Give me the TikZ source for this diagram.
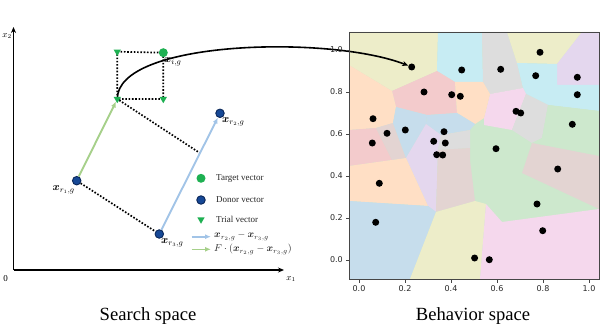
\documentclass[tikz,border=0pt]{standalone}
\usepackage{amsmath,amssymb}
\usepackage{fontspec}
\setmainfont{Liberation Serif}
\newfontfamily\tickfont{DejaVu Sans}
\usetikzlibrary{shapes.geometric,calc,arrows.meta}
\pgfdeclarelayer{back}
\pgfdeclarelayer{bg}
\pgfsetlayers{back,bg,main}
\definecolor{cyel}{RGB}{237,237,201}
\definecolor{ccya}{RGB}{199,236,243}
\definecolor{cgry}{RGB}{221,221,221}
\definecolor{clav}{RGB}{228,215,238}
\definecolor{cpnk}{RGB}{245,216,237}
\definecolor{cros}{RGB}{243,203,204}
\definecolor{cpch}{RGB}{255,223,197}
\definecolor{clbl}{RGB}{198,221,236}
\definecolor{cgrn}{RGB}{205,232,205}
\definecolor{cbrn}{RGB}{227,212,210}
\definecolor{framegray}{RGB}{70,70,70}
\definecolor{tgreen}{RGB}{30,176,82}
\definecolor{donorfill}{RGB}{22,72,150}
\definecolor{donordraw}{RGB}{10,38,88}
\definecolor{arrblue}{RGB}{162,196,231}
\definecolor{arrgreen}{RGB}{166,208,138}
\begin{document}
\begin{tikzpicture}[x=1pt,y=-1pt,
  dot/.style={circle,fill=black,inner sep=0pt,minimum size=7pt},
  donor/.style={circle,fill=donorfill,draw=donordraw,line width=0.9pt,inner sep=0pt,minimum size=8.5pt},
  target/.style={circle,fill=tgreen,inner sep=0pt,minimum size=9pt},
  trial/.style={regular polygon,regular polygon sides=3,shape border rotate=180,fill=tgreen,inner sep=0pt,minimum size=8.5pt},
  axisline/.style={line width=1.3pt,-{Stealth[length=6pt,width=5pt]}},
  dotline/.style={line width=1.7pt,dash pattern=on 1.6pt off 1.7pt},
  bluearrow/.style={arrblue,line width=1.9pt,-{Latex[length=6pt,width=5pt]}},
  greenarrow/.style={arrgreen,line width=1.9pt,-{Latex[length=6pt,width=5pt]}},
  curvearrow/.style={line width=1.6pt,-{Stealth[length=6pt,width=5pt]}},
  ticklabel/.style={font=\tickfont\fontsize{8}{9}\selectfont,inner sep=0pt,text=black!85},
  lgtext/.style={font=\fontsize{9}{10}\selectfont,inner sep=0pt,anchor=west,text=black!85},
  vlabel/.style={font=\fontsize{11}{12}\selectfont,inner sep=0pt},
  caption/.style={font=\fontsize{18.6}{22}\selectfont,inner sep=0pt}
]
\useasboundingbox (0,0) rectangle (602,326);

% ---------------- Behavior space cells ----------------
\begin{pgfonlayer}{back}
\fill[cgrn] (349,32) rectangle (599,279);
\fill[cyel] (349,32) -- (438,32) -- (437,71) -- (392,91) -- (349,65) -- cycle;
\fill[ccya] (438,32) -- (482,32) -- (483,82) -- (455,82) -- (437,71) -- cycle;
\fill[cgry] (482,32) -- (507,32) -- (517,63) -- (523,88) -- (490,94) -- (483,82) -- cycle;
\fill[cyel] (507,32) -- (582,32) -- (557,64) -- (517,63) -- cycle;
\fill[clav] (582,32) -- (599,32) -- (599,85) -- (557,85) -- (557,64) -- cycle;
\fill[ccya] (517,63) -- (557,64) -- (557,85) -- (599,85) -- (599,111) -- (548,105) -- (526,94) -- (523,88) -- cycle;
\fill[cpnk] (490,94) -- (523,88) -- (526,94) -- (512,130) -- (484,125) -- (484,118) -- cycle;
\fill[cgry] (526,94) -- (548,105) -- (542,138) -- (532,143) -- (512,130) -- cycle;
\fill[cgrn] (548,105) -- (599,111) -- (599,156) -- (532,143) -- (542,138) -- cycle;
\fill[cbrn] (532,143) -- (599,156) -- (599,209) -- (522,173) -- cycle;
\fill[cros] (392,91) -- (437,71) -- (455,82) -- (457,113) -- (427,115) -- (396,107) -- cycle;
\fill[cpch] (455,82) -- (483,82) -- (490,94) -- (484,118) -- (475,124) -- (457,113) -- cycle;
\fill[cpch] (349,65) -- (392,91) -- (396,107) -- (393,123) -- (376,128) -- (349,130) -- cycle;
\fill[cros] (349,130) -- (376,128) -- (392,160) -- (349,166) -- cycle;
\fill[cbrn] (376,128) -- (393,123) -- (406,158) -- (392,160) -- cycle;
\fill[clbl] (396,107) -- (427,115) -- (426,124) -- (406,158) -- (393,123) -- cycle;
\fill[clbl] (427,115) -- (457,113) -- (475,124) -- (470,130) -- (441,135) -- (426,124) -- cycle;
\fill[clav] (426,124) -- (441,135) -- (438,150) -- (436,212) -- (428,206) -- (406,158) -- cycle;
\fill[cgry] (441,135) -- (470,130) -- (470,148) -- (438,150) -- cycle;
\fill[cbrn] (438,150) -- (470,148) -- (470,160) -- (475,201) -- (436,212) -- cycle;
\fill[cpch] (349,166) -- (392,160) -- (406,158) -- (428,206) -- (349,201) -- cycle;
\fill[clbl] (349,201) -- (428,206) -- (436,212) -- (410,279) -- (349,279) -- cycle;
\fill[cyel] (436,212) -- (475,201) -- (486,204) -- (480,279) -- (410,279) -- cycle;
\fill[cpnk] (486,204) -- (502,222) -- (599,209) -- (599,279) -- (480,279) -- cycle;
\end{pgfonlayer}

% frame and ticks
\draw[framegray,line width=0.7pt] (349,32) rectangle (599.5,279);
\foreach \v/\yy in {0.0/260,0.2/218,0.4/176,0.6/134,0.8/92,1.0/50}{
  \draw[framegray,line width=0.6pt] (349,\yy) -- (345.5,\yy);
  \node[ticklabel,anchor=east] (yt\v) at (343,\yy) {\v};
}
\foreach \v/\xx in {0.0/359,0.2/405,0.4/451,0.6/497,0.8/543,1.0/589}{
  \draw[framegray,line width=0.6pt] (\xx,279) -- (\xx,282.5);
  \node[ticklabel,anchor=north] (xt\v) at (\xx,285.5) {\v};
}

% points in behavior space
\foreach \n/\px/\py in {1/411.7/67, 2/461.7/70, 3/424/92, 4/451.7/94.7, 5/460.3/96.3,
  6/373/118.7, 7/387/133.3, 8/405.3/130, 9/372.3/143, 10/444/131.7, 11/433.7/141.3,
  12/445.3/143, 13/436.7/154.7, 14/442.7/155, 15/540/52.3, 16/500.7/69.3, 17/535.7/75.7,
  18/577.3/77.3, 19/577.3/94.7, 20/516/111.3, 21/520.7/113, 22/572.3/124.3, 23/496/148.7,
  24/379.3/183.3, 25/375.7/222.3, 26/474.6/258, 27/557.7/169, 28/537/204, 29/542.7/230.7,
  30/489.3/259.7}{
  \node[dot] (b\n) at (\px,\py) {};
}

% ---------------- Search space ----------------
\coordinate (o) at (13.5,270);
\coordinate (ytip) at (13.5,27);
\coordinate (xtip) at (284,270);
\draw[axisline] (o) -- (ytip);
\draw[axisline] (o) -- (xtip);
\node[font=\fontsize{9}{10}\selectfont,inner sep=0pt] (lx2) at (7,36) {$x_2$};
\node[font=\fontsize{9}{10}\selectfont,inner sep=0pt] (l0) at (5.5,278.5) {0};
\node[font=\fontsize{9}{10}\selectfont,inner sep=0pt] (lx1) at (291,279) {$x_1$};

% vectors
\node[target] (tg) at (163.3,52.7) {};
\node[trial] (t0) at (117.3,51.7) {};
\node[trial] (t1) at (117.3,99) {};
\node[trial] (t2) at (163.3,99) {};
\node[donor] (r1) at (76.7,180.7) {};
\node[donor] (r2) at (220,113.3) {};
\node[donor] (r3) at (159.3,234) {};
\coordinate (m) at ($(r3)!0.67!(r2)$);

\node[vlabel,anchor=west] (ltg) at (164,62) {$\boldsymbol{x}_{i,g}$};
\node[vlabel,anchor=west] (lr2) at (222,122) {$\boldsymbol{x}_{r_2,g}$};
\node[vlabel,anchor=east] (lr1) at (75,190) {$\boldsymbol{x}_{r_1,g}$};
\node[vlabel,anchor=west] (lr3) at (161,243) {$\boldsymbol{x}_{r_3,g}$};

\begin{pgfonlayer}{bg}
\draw[dotline] (t0.center) -- (tg.center) -- (t2.center) -- (t1.center) -- cycle;
\draw[dotline] (r1) -- (r3);
\draw[dotline] (t1) -- (m);
\draw[bluearrow] (r3) -- (r2);
\draw[greenarrow] (r1) -- (t1);
\draw[curvearrow] (t1.center) .. controls (117,40) and (330,35) .. (b1);
\end{pgfonlayer}

% legend
\node[target] (lgt) at (201,178.3) {};
\node[lgtext] (lgtt) at (216,178.3) {Target vector};
\node[donor] (lgd) at (201,200) {};
\node[lgtext] (lgdt) at (216,200) {Donor vector};
\node[trial] (lgr) at (201,219.5) {};
\node[lgtext] (lgrt) at (216,219.5) {Trial vector};
\coordinate (la1) at (191.5,236.7);
\coordinate (la2) at (211,236.7);
\draw[bluearrow,line width=1.6pt] (la1) -- (la2);
\node[lgtext,font=\fontsize{10}{11}\selectfont] (lat) at (214,236.5) {$\boldsymbol{x}_{r_2,g}-\boldsymbol{x}_{r_3,g}$};
\coordinate (lb1) at (191.5,249.3);
\coordinate (lb2) at (211,249.3);
\draw[greenarrow,line width=1.6pt] (lb1) -- (lb2);
\node[lgtext,font=\fontsize{10}{11}\selectfont] (lbt) at (214,249.3) {$F\cdot\left(\boldsymbol{x}_{r_2,g}-\boldsymbol{x}_{r_3,g}\right)$};

% captions
\node[caption] (cap1) at (148,316) {Search space};
\node[caption] (cap2) at (473,316) {Behavior space};
\end{tikzpicture}
\end{document}
